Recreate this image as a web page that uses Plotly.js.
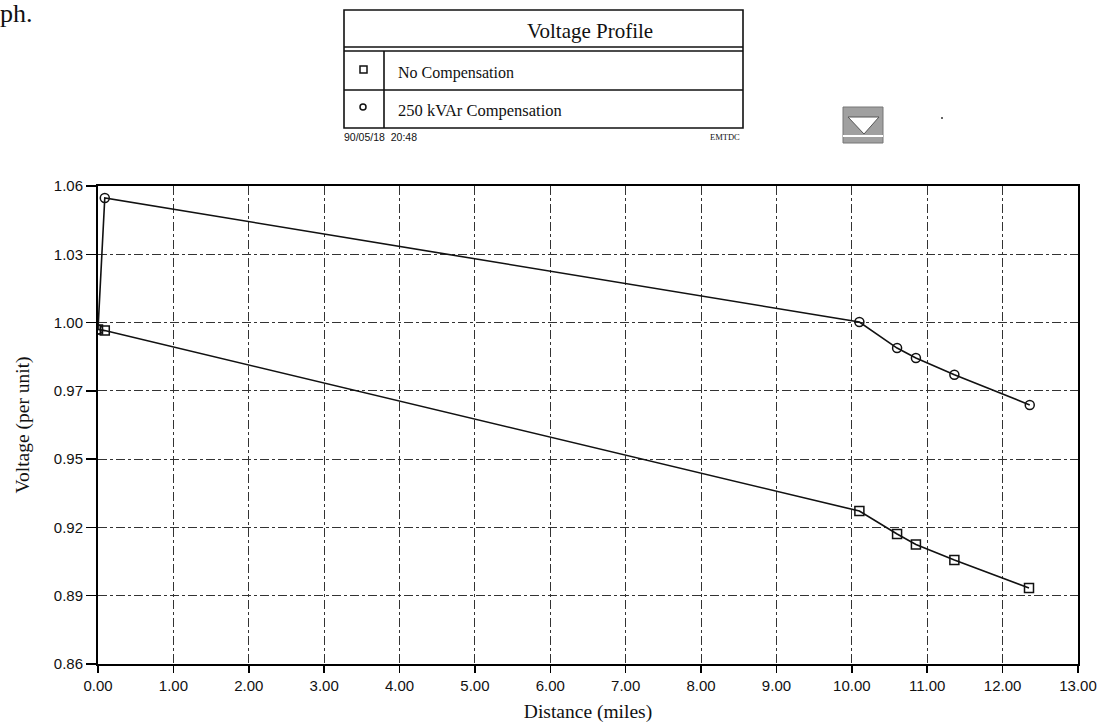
<!DOCTYPE html>
<html>
<head>
<meta charset="utf-8">
<script src="https://cdn.plot.ly/plotly-3.0.1.min.js"></script>
<style>html,body{margin:0;padding:0;background:#fff;}#chart{width:1108px;height:727px;}</style>
</head>
<body>
<div id="chart"></div>
<script>
// ---- data ----
const seriesNames = ['No Compensation', '250 kVAr Compensation'];
const distNoComp = [0, 0.09, 10.1, 10.6, 10.85, 11.36, 12.35];
const voltNoComp = [1.0, 0.9995, 0.924, 0.9144, 0.910, 0.9035, 0.8918];
const distComp = [0, 0.09, 10.1, 10.6, 10.85, 11.36, 12.36];
const voltComp = [1.0, 1.055, 1.0031, 0.9922, 0.988, 0.981, 0.9684];
const yTickLabels = ['0.86', '0.89', '0.92', '0.95', '0.97', '1.00', '1.03', '1.06'];
const chartTitle = 'Voltage Profile';
const dateStamp = '90/05/18  20:48';
const programName = 'EMTDC';
const pageFragment = 'ph.';
const xTitle = 'Distance (miles)';
const yTitle = 'Voltage (per unit)';

// ---- layout helpers (pixel -> paper) ----
const L = 98, R = 1078, T = 186, B = 664;
const px = x => (x - L) / (R - L);
const py = y => (B - y) / (B - T);

const yMin = 0.86, yMax = 1.06;
const yTickVals = yTickLabels.map((_, i) => yMin + i * (yMax - yMin) / (yTickLabels.length - 1));

const serif = 'Liberation Serif, Times New Roman, serif';
const sans = 'Liberation Sans, Arial, sans-serif';

const traces = [
  {
    x: distNoComp, y: voltNoComp, name: seriesNames[0], mode: 'lines+markers',
    line: {color: '#111', width: 1.6},
    marker: {symbol: 'square-open', size: 9, color: '#111', line: {width: 1.5}}
  },
  {
    x: distComp, y: voltComp, name: seriesNames[1], mode: 'lines+markers',
    line: {color: '#111', width: 1.6},
    marker: {symbol: 'circle-open', size: 9, color: '#111', line: {width: 1.5}}
  }
];

const lineStyle = {color: '#111', width: 1.6};
const shapes = [
  // legend box
  {type: 'rect', xref: 'paper', yref: 'paper', x0: px(344), x1: px(743), y0: py(10), y1: py(128), line: lineStyle},
  {type: 'line', xref: 'paper', yref: 'paper', x0: px(344), x1: px(743), y0: py(47), y1: py(47), line: lineStyle},
  {type: 'line', xref: 'paper', yref: 'paper', x0: px(344), x1: px(743), y0: py(51), y1: py(51), line: lineStyle},
  {type: 'line', xref: 'paper', yref: 'paper', x0: px(344), x1: px(743), y0: py(90), y1: py(90), line: lineStyle},
  {type: 'line', xref: 'paper', yref: 'paper', x0: px(384), x1: px(384), y0: py(51), y1: py(128), line: lineStyle},
  // legend symbols
  {type: 'rect', xref: 'paper', yref: 'paper', x0: px(360), x1: px(367), y0: py(66), y1: py(73), line: {color: '#111', width: 1.5}},
  {type: 'circle', xref: 'paper', yref: 'paper', x0: px(360), x1: px(366), y0: py(104), y1: py(110), line: {color: '#111', width: 1.5}},
  // icon
  {type: 'rect', xref: 'paper', yref: 'paper', x0: px(843), x1: px(883), y0: py(107), y1: py(143), fillcolor: '#a0a0a0', line: {color: '#777', width: 1}},
  {type: 'rect', xref: 'paper', yref: 'paper', x0: px(843), x1: px(883), y0: py(135), y1: py(137), fillcolor: '#fff', line: {width: 0}},
  {type: 'path', xref: 'paper', yref: 'paper',
   path: `M ${px(848)} ${py(117)} L ${px(879)} ${py(117)} L ${px(864)} ${py(134)} Z`,
   fillcolor: '#fff', line: {color: '#555', width: 1}},
  // stray dot
  {type: 'circle', xref: 'paper', yref: 'paper', x0: px(941), x1: px(943), y0: py(117), y1: py(119), fillcolor: '#333', line: {width: 0}}
];

const annotations = [
  {text: pageFragment, xref: 'paper', yref: 'paper', x: px(-2), y: py(-3), xanchor: 'left', yanchor: 'top', showarrow: false, font: {family: serif, size: 26, color: '#111'}},
  {text: chartTitle, xref: 'paper', yref: 'paper', x: px(590), y: py(31), xanchor: 'center', yanchor: 'middle', showarrow: false, font: {family: serif, size: 21, color: '#111'}},
  {text: seriesNames[0], xref: 'paper', yref: 'paper', x: px(396), y: py(73), xanchor: 'left', yanchor: 'middle', showarrow: false, font: {family: serif, size: 16, color: '#111'}},
  {text: seriesNames[1], xref: 'paper', yref: 'paper', x: px(396), y: py(111), xanchor: 'left', yanchor: 'middle', showarrow: false, font: {family: serif, size: 16.5, color: '#111'}},
  {text: dateStamp, xref: 'paper', yref: 'paper', x: px(342), y: py(137), xanchor: 'left', yanchor: 'middle', showarrow: false, font: {family: 'Liberation Sans Narrow, ' + sans, size: 10.5, color: '#111'}},
  {text: programName, xref: 'paper', yref: 'paper', x: px(742), y: py(137), xanchor: 'right', yanchor: 'middle', showarrow: false, font: {family: serif, size: 8.5, color: '#111'}}
];

const layout = {
  width: 1108, height: 727,
  margin: {l: L, r: 1108 - R, t: T, b: 727 - B, pad: 0},
  paper_bgcolor: '#fff', plot_bgcolor: '#fff',
  showlegend: false,
  xaxis: {
    range: [0, 13], dtick: 1, tick0: 0, tickformat: '.2f',
    showgrid: true, gridcolor: '#333', gridwidth: 1, griddash: 'dashdot',
    showline: true, linecolor: '#000', linewidth: 2, mirror: true,
    ticks: 'outside', ticklen: 7, tickwidth: 1.5, tickcolor: '#000',
    zeroline: false,
    tickfont: {family: sans, size: 15, color: '#111'},
    title: {text: xTitle, font: {family: serif, size: 19.5, color: '#111'}, standoff: 11}
  },
  yaxis: {
    range: [yMin, yMax], tickmode: 'array', tickvals: yTickVals, ticktext: yTickLabels,
    showgrid: true, gridcolor: '#333', gridwidth: 1, griddash: 'dashdot',
    showline: true, linecolor: '#000', linewidth: 2, mirror: true,
    ticks: 'outside', ticklen: 10, tickwidth: 1.5, tickcolor: '#000',
    zeroline: false,
    tickfont: {family: sans, size: 15, color: '#111'},
    title: {text: yTitle, font: {family: serif, size: 19.5, color: '#111'}, standoff: 19}
  },
  shapes: shapes,
  annotations: annotations
};

Plotly.newPlot('chart', traces, layout, {displayModeBar: false, staticPlot: true});
</script>
</body>
</html>
